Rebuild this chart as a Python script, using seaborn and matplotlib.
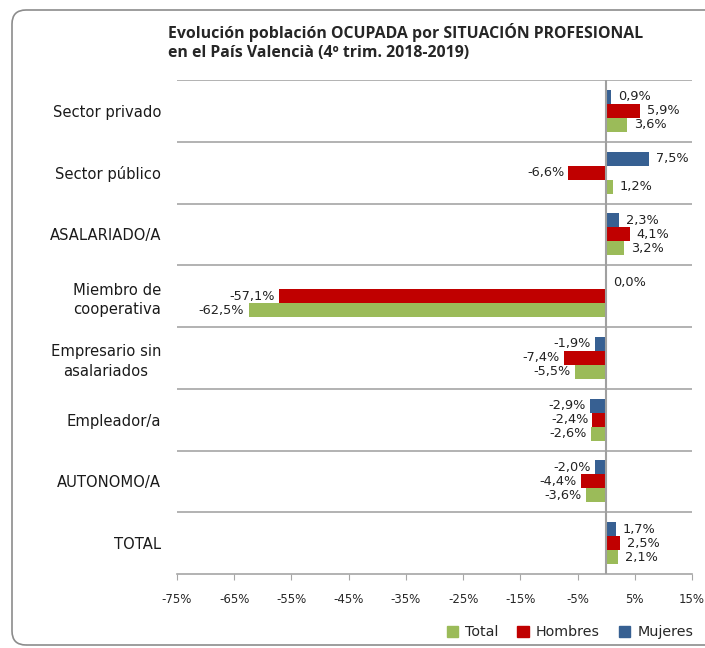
import pandas as pd
import seaborn as sns
import matplotlib.pyplot as plt
from matplotlib.patches import FancyBboxPatch, Patch
from matplotlib.transforms import IdentityTransform

# Datos: variación (%) 4º trim. 2018-2019
categorias = ["Sector privado", "Sector público", "ASALARIADO/A", "Miembro de\ncooperativa",
              "Empresario sin\nasalariados", "Empleador/a", "AUTONOMO/A", "TOTAL"]
mujeres = [0.9, 7.5, 2.3, 0.0, -1.9, -2.9, -2.0, 1.7]
hombres = [5.9, -6.6, 4.1, -57.1, -7.4, -2.4, -4.4, 2.5]
total = [3.6, 1.2, 3.2, -62.5, -5.5, -2.6, -3.6, 2.1]
series = ["Mujeres", "Hombres", "Total"]
colores = {"Mujeres": "#376092", "Hombres": "#C00000", "Total": "#9BBB59"}
xticks = [-75, -65, -55, -45, -35, -25, -15, -5, 5, 15]

df = pd.DataFrame({
    "categoria": categorias * 3,
    "serie": ["Mujeres"] * 8 + ["Hombres"] * 8 + ["Total"] * 8,
    "valor": mujeres + hombres + total,
})

sns.set_style("white")
plt.rcParams["font.family"] = ["DejaVu Sans"]

fig = plt.figure(figsize=(7.05, 6.48), dpi=100)
ax = fig.add_axes([177 / 705, 1 - 574 / 648, (692 - 177) / 705, (574 - 80) / 648])

sns.barplot(data=df, x="valor", y="categoria", hue="serie", hue_order=series,
            order=categorias, palette=colores, orient="h", width=0.68,
            saturation=1, errorbar=None, legend=False, linewidth=0, ax=ax)

# etiquetas de datos
for cont in ax.containers:
    for bar in cont:
        v = bar.get_width()
        yc = bar.get_y() + bar.get_height() / 2
        txt = f"{v:.1f}%".replace(".", ",")
        if v >= 0:
            ax.annotate(txt, (v, yc), xytext=(5, 0), textcoords="offset points",
                        ha="left", va="center", fontsize=9.3, color="#222222")
        else:
            ax.annotate(txt, (v, yc), xytext=(-3, 0), textcoords="offset points",
                        ha="right", va="center", fontsize=9.3, color="#222222")

ax.set_xlim(-75, 15)
ax.set_ylim(len(categorias) - 0.5, -0.5)
ax.set_xticks(xticks)
ax.set_xticklabels([f"{t}%" for t in xticks], fontsize=8.5)
ax.set_xlabel("")
ax.set_ylabel("")

# separadores entre categorías
for i in range(len(categorias)):
    ax.axhline(i - 0.5, color="#a6a6a6", lw=1.2, zorder=0)
ax.axvline(0, color="#a0a0a0", lw=1.5, zorder=3)

for s in ["left", "right", "top"]:
    ax.spines[s].set_visible(False)
ax.spines["bottom"].set_color("#a6a6a6")
ax.spines["bottom"].set_linewidth(1.2)
ax.tick_params(axis="x", bottom=True, length=4, color="#a6a6a6", pad=10)
ax.tick_params(axis="y", left=False, pad=8, labelsize=10.6)
for lab in ax.get_yticklabels():
    lab.set_multialignment("center")
    lab.set_linespacing(1.35)
    lab.set_color("#1a1a1a")

# título
fig.text(168 / 705, 1 - 32 / 648, "Evolución población OCUPADA por SITUACIÓN PROFESIONAL",
         fontsize=11.4, fontweight="bold", family=["Open Sans", "DejaVu Sans"], va="center", ha="left")
fig.text(168 / 705, 1 - 53 / 648, "en el País Valencià (4º trim. 2018-2019)",
         fontsize=11.4, fontweight="bold", family=["Open Sans", "DejaVu Sans"], va="center", ha="left")

# leyenda
handles = [Patch(color=colores[s]) for s in ["Total", "Hombres", "Mujeres"]]
fig.legend(handles, ["Total", "Hombres", "Mujeres"], loc="center",
           bbox_to_anchor=(570 / 705, 1 - 632 / 648), ncol=3, frameon=False,
           fontsize=10.3, handlelength=0.8, handleheight=0.8, handletextpad=0.5,
           columnspacing=1.3)

# marco redondeado
marco = FancyBboxPatch((12, 3), 720, 635, boxstyle="round,pad=0,rounding_size=14",
                       transform=IdentityTransform(), facecolor="none",
                       edgecolor="#8c8c8c", lw=1.2)
fig.patches.append(marco)

fig.savefig("out.png", dpi=100)
